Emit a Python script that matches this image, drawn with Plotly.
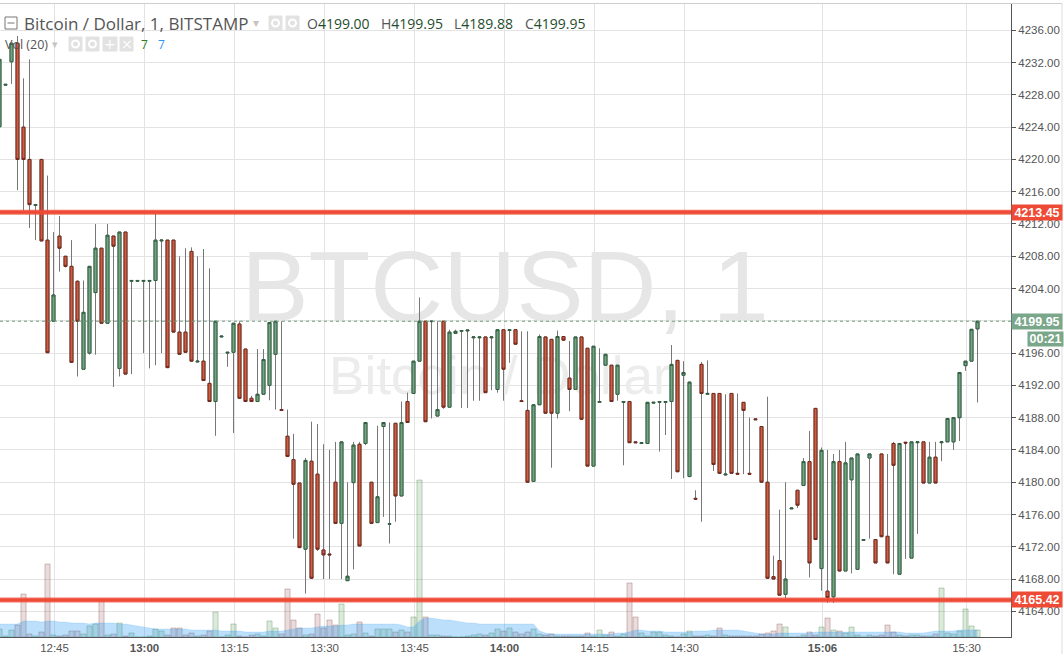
import plotly.graph_objects as go

opens = [4224.05, 4229.2, 4232.1, 4234.4, 4224, 4220, 4214.3, 4220, 4210, 4199.95,
         4210.5, 4208, 4206.75, 4204.9, 4194, 4196, 4203.5, 4209, 4199.7, 4210.5,
         4194.1, 4211, 4204.9, 4204.9, 4204.9, 4204.9, 4205, 4209.9, 4210, 4210,
         4198.6, 4198.6, 4208.6, 4194.9, 4195, 4192.25, 4190, 4198, 4196, 4196.1,
         4199.6, 4196.5, 4190.4, 4190, 4190.9, 4192, 4195.85, 4189, 4185.7, 4182.8,
         4179.9, 4171.7, 4182.6, 4181, 4171.6, 4171.1, 4180, 4174.9, 4167.8, 4179.95,
         4184.7, 4184.8, 4180, 4175, 4186.9, 4174.8, 4187.3, 4178.3, 4190, 4191,
         4195, 4199.95, 4199.9, 4188.2, 4199.95, 4189.3, 4198.45, 4198.7, 4198.75, 4197.9,
         4197.9, 4198, 4197.9, 4191.5, 4198.9, 4198.8, 4198.9, 4190.1, 4188.9, 4180.1,
         4189.6, 4198, 4197.7, 4188.55, 4198.05, 4192.9, 4191.5, 4198, 4196.6, 4182,
         4189.9, 4194.5, 4194.5, 4190.9, 4189.9, 4190, 4185, 4184.8, 4184.8, 4189.8,
         4189.9, 4189.9, 4190, 4195.1, 4193.25, 4180.7, 4178, 4194.6, 4190.9, 4191,
         4191, 4180.9, 4191, 4181.1, 4189.9, 4181.1, 4187.85, 4186.9, 4180, 4168.3,
         4170.3, 4166.1, 4176.7, 4179, 4179.6, 4182.55, 4189.15, 4169.3, 4166.5, 4165.8,
         4182.55, 4169, 4180.3, 4169.2, 4172.8, 4183, 4172.9, 4183.5, 4173.3, 4184.8,
         4168.6, 4184.95, 4170.6, 4184.9, 4185, 4179.9, 4183.1, 4184.9, 4185, 4185,
         4188, 4194.45, 4195, 4199]
highs = [4232.4, 4229.3, 4234.4, 4235.3, 4230.05, 4232.4, 4214.4, 4220, 4218, 4211,
         4213, 4208, 4210, 4205, 4205, 4206.75, 4212, 4209, 4212, 4210.5,
         4211, 4211, 4205, 4205, 4205, 4205, 4213.5, 4210, 4210, 4210,
         4208, 4209, 4209.1, 4208, 4208.9, 4206.5, 4199.95, 4198.1, 4196.1, 4199.7,
         4199.95, 4196.5, 4190.7, 4196.5, 4196.5, 4199.8, 4199.95, 4199.95, 4189, 4186,
         4179.9, 4183, 4187.5, 4187.2, 4184.7, 4184, 4185, 4185, 4180, 4185,
         4185, 4187.4, 4180, 4187, 4187.4, 4187.4, 4187.3, 4190, 4191.1, 4195,
         4202.9, 4199.95, 4199.95, 4199.95, 4199.95, 4198.9, 4198.9, 4198.8, 4198.85, 4198,
         4198, 4198, 4198, 4198.9, 4198.9, 4198.9, 4198.9, 4198.7, 4198.7, 4189.6,
         4198.3, 4198, 4197.7, 4198.8, 4198.05, 4197.5, 4198, 4198, 4196.6, 4196.85,
         4196.6, 4195.85, 4194.5, 4194.5, 4190, 4190, 4185, 4184.9, 4189.9, 4189.9,
         4190, 4190, 4197, 4195.1, 4195, 4192.5, 4179, 4194.9, 4195.1, 4191,
         4191, 4190.9, 4191, 4191, 4189.9, 4188, 4187.85, 4186.9, 4190.6, 4170.9,
         4176.6, 4180, 4176.8, 4179, 4183, 4186.35, 4189.15, 4184.3, 4184, 4183.5,
         4184, 4185, 4183, 4183.5, 4172.9, 4183.5, 4172.9, 4183.5, 4183.5, 4185,
         4184.8, 4184.95, 4185, 4185, 4185, 4185, 4185, 4185, 4187.9, 4188,
         4193.6, 4195, 4198.95, 4199.95]
lows = [4224.05, 4229.2, 4229.35, 4216.2, 4213.7, 4211.5, 4210, 4209.9, 4196.05, 4199.95,
        4206.1, 4206.6, 4194.85, 4193.1, 4194, 4195.8, 4195.8, 4199.7, 4199.7, 4191.8,
        4193.1, 4193.4, 4193.4, 4204.9, 4196, 4194.1, 4194.5, 4196, 4194.2, 4198.6,
        4195.85, 4196.1, 4195, 4194.9, 4192.6, 4190, 4185.75, 4198, 4194.3, 4186.1,
        4190.4, 4190, 4190, 4190, 4190.9, 4190.15, 4189, 4188.9, 4183.2, 4173,
        4171.9, 4166.2, 4168.1, 4171.5, 4168, 4168, 4174.9, 4168, 4167.8, 4169.2,
        4172.1, 4184.6, 4174.9, 4175, 4175.7, 4172.4, 4175.1, 4178.3, 4187.4, 4191,
        4195, 4187.5, 4187.9, 4188.2, 4189.1, 4189.3, 4198.45, 4189.2, 4189.2, 4190.1,
        4190.1, 4191.1, 4191.4, 4191.1, 4190.1, 4194.8, 4197.1, 4190, 4180, 4180.1,
        4189.6, 4188.55, 4181.8, 4187.9, 4197.6, 4188.8, 4191.5, 4187.8, 4182, 4182,
        4189.9, 4194.5, 4190, 4190.1, 4182.1, 4184.9, 4184.9, 4184.8, 4184.8, 4189.8,
        4183.8, 4185.85, 4180.4, 4181.3, 4180.5, 4180.7, 4177.9, 4175.1, 4190.9, 4181.4,
        4181.1, 4180.9, 4181.1, 4181, 4181, 4181, 4187.75, 4180, 4168.1, 4168,
        4166, 4165.6, 4176.7, 4176.8, 4179.6, 4168.2, 4172.9, 4166.55, 4165.05, 4165.05,
        4169, 4169, 4168.7, 4169.2, 4172.8, 4173, 4170, 4173.25, 4170, 4168.6,
        4168.6, 4170.5, 4170.6, 4173.6, 4179.9, 4179.9, 4179.9, 4182.6, 4185, 4184,
        4185.1, 4193.8, 4195, 4189.88]
closes = [4232.4, 4229.3, 4234.4, 4220, 4220, 4214.4, 4214.4, 4209.9, 4196.05, 4203.2,
          4209, 4206.75, 4194.85, 4199.95, 4201.05, 4206.75, 4209, 4199.7, 4210.6, 4209.25,
          4211, 4193.4, 4205, 4205, 4205, 4205, 4210, 4210, 4194.2, 4198.6,
          4195.85, 4196.1, 4195, 4195, 4192.6, 4190, 4199.95, 4198.1, 4196.1, 4199.7,
          4190.4, 4190, 4190, 4190.9, 4195.2, 4199.8, 4199.95, 4188.9, 4183.2, 4179.75,
          4171.9, 4182.7, 4168.1, 4171.7, 4171, 4171, 4174.9, 4185, 4168.35, 4184.6,
          4172.1, 4187.4, 4174.9, 4178.2, 4187.4, 4174.85, 4178.3, 4187.4, 4187.4, 4195,
          4199.95, 4187.5, 4199.95, 4189, 4189.3, 4198.6, 4198.7, 4198.8, 4198.85, 4198,
          4198, 4191.1, 4198, 4198.9, 4194, 4198.9, 4197.1, 4190, 4180, 4189.6,
          4198.05, 4188.55, 4188.55, 4198.05, 4197.6, 4191.5, 4198, 4187.8, 4182, 4196.85,
          4190, 4195.85, 4190, 4194.5, 4190, 4184.9, 4184.9, 4184.9, 4189.9, 4189.9,
          4190, 4190, 4194.6, 4181.3, 4193.6, 4192.4, 4177.9, 4191, 4191, 4182.2,
          4181.1, 4181, 4181.1, 4181, 4188.9, 4181, 4187.75, 4180, 4168.1, 4168,
          4166, 4168, 4176.8, 4177.15, 4182.55, 4170, 4172.9, 4183.95, 4165.7, 4182.55,
          4169, 4182.4, 4183, 4183.5, 4172.9, 4183.5, 4170, 4173.25, 4170, 4182.1,
          4184.8, 4184.85, 4185, 4185, 4179.9, 4183.1, 4179.9, 4185, 4187.9, 4188,
          4193.6, 4195, 4198.95, 4199.95]
volumes = [8, 1, 7, 12, 43, 3, 1, 5, 73, 2,
           1, 2, 6, 6, 3, 11, 13, 38, 2, 3,
           14, 1, 4, 0, 0, 1, 8, 6, 2, 9,
           9, 2, 4, 1, 2, 6, 25, 0, 2, 13,
           1, 0, 2, 3, 1, 16, 9, 3, 48, 17,
           9, 2, 3, 23, 9, 17, 12, 33, 2, 3,
           15, 4, 1, 8, 8, 8, 5, 7, 5, 20,
           157, 20, 2, 2, 1, 1, 0, 0, 1, 2,
           3, 2, 4, 8, 6, 9, 5, 3, 5, 8,
           3, 2, 3, 1, 1, 1, 1, 1, 4, 1,
           7, 2, 5, 1, 3, 54, 20, 4, 1, 5,
           5, 2, 1, 0, 3, 6, 1, 1, 2, 1,
           9, 2, 1, 1, 1, 1, 1, 3, 4, 6,
           13, 10, 0, 0, 2, 5, 2, 10, 19, 7,
           6, 4, 10, 2, 0, 2, 1, 2, 12, 5,
           2, 1, 2, 2, 1, 1, 3, 49, 4, 3,
           6, 28, 11, 7]
vol_ma = [13, 13, 13, 13, 16, 16, 16, 15, 16, 16,
          15, 15, 14, 14, 14, 13, 14, 14, 14, 14,
          13, 13, 12, 11, 10, 9, 8, 8, 8, 8,
          8, 8, 7, 7, 7, 7, 7, 6, 6, 6,
          6, 5, 5, 5, 5, 6, 6, 6, 7, 8,
          9, 9, 9, 10, 11, 11, 11, 12, 12, 13,
          13, 13, 13, 13, 13, 13, 13, 12, 10, 10,
          16, 19, 19, 18, 17, 17, 16, 15, 14, 14,
          13, 13, 13, 13, 13, 13, 13, 13, 13, 13,
          6, 4, 3, 3, 3, 3, 3, 3, 3, 3,
          3, 3, 3, 4, 4, 5, 7, 7, 6, 6,
          6, 5, 5, 5, 5, 5, 6, 6, 6, 7,
          7, 7, 7, 7, 6, 5, 4, 3, 3, 3,
          4, 4, 4, 4, 4, 4, 5, 5, 5, 5,
          5, 5, 5, 5, 5, 5, 5, 5, 5, 5,
          5, 4, 4, 4, 4, 5, 6, 6, 6, 6,
          7, 7, 7, 7]

tick_bars = [9, 24, 39, 54, 69, 84, 99, 114, 137, 161]
tick_labels = ['12:45', '<b>13:00</b>', '13:15', '13:30', '13:45', '<b>14:00</b>',
               '14:15', '14:30', '<b>15:06</b>', '15:30']

resistance = 4213.45
support = 4165.42
last_price = 4199.95

RED_LINE = '#ef4a35'
GREEN_TAG = '#7aa68a'
TEXT = '#555555'
GRID = '#e3e3e3'
ICON = '#e2e2e2'

PLOT_W = 1011
PLOT_H = 633
BOTTOM = 637

bars = list(range(len(opens)))
body_tops = [max(o, c) for o, c in zip(opens, closes)]
body_bottoms = [min(o, c) for o, c in zip(opens, closes)]
vol_fill = ['rgba(60,140,60,0.18)' if c > o else 'rgba(140,60,60,0.18)' for o, c in zip(opens, closes)]
vol_edge = ['rgba(60,120,60,0.3)' if c > o else 'rgba(120,60,60,0.3)' for o, c in zip(opens, closes)]


def px(x):
    return x / PLOT_W


def py(y):
    return (BOTTOM - y) / PLOT_H


def label(x, y, text, size=12, color=TEXT, family='Open Sans', anchor='left'):
    return dict(xref='paper', yref='paper', x=px(x), y=py(y), text=text, showarrow=False,
                xanchor=anchor, yanchor='middle', font=dict(family=family, size=size, color=color))


def box(x0, y0, x1, y1, fill=ICON, line=None):
    return dict(type='rect', xref='paper', yref='paper', x0=px(x0), x1=px(x1), y0=py(y0), y1=py(y1),
                fillcolor=fill, line=dict(color=line or fill, width=1), layer='above')


def seg(x0, y0, x1, y1, color, width=1):
    return dict(type='line', xref='paper', yref='paper', x0=px(x0), x1=px(x1), y0=py(y0), y1=py(y1),
                line=dict(color=color, width=width), layer='above')


def tag(price, text, fill):
    return dict(xref='paper', yref='y2', x=1, y=price, text=text, showarrow=False, xanchor='left',
                yanchor='middle', width=50, height=15, bgcolor=fill, borderpad=0,
                font=dict(family='Liberation Sans', size=12.5, color='white', weight='bold'))


fig = go.Figure()

# Watermark sits in the lower subplot so the candles are drawn over it
fig.add_trace(go.Scatter(x=[84.25], y=[341], mode='text', text=['BTCUSD, 1'], textposition='middle center',
                         textfont=dict(family='Liberation Sans', size=101, color='#e6e6e6'),
                         hoverinfo='skip', yaxis='y'))
fig.add_trace(go.Scatter(x=[83.4], y=[256], mode='text', text=['Bitcoin / Dollar'], textposition='middle center',
                         textfont=dict(family='Liberation Sans', size=53, color='#ececec'),
                         hoverinfo='skip', yaxis='y'))

fig.add_trace(go.Bar(x=bars, y=volumes, width=0.85, marker=dict(color=vol_fill, line=dict(color=vol_edge, width=1)),
                     yaxis='y', name='Vol'))
fig.add_trace(go.Scatter(x=bars, y=vol_ma, mode='lines', fill='tozeroy', fillcolor='rgba(33,150,243,0.3)',
                         line=dict(color='rgba(33,150,243,0.15)', width=1), yaxis='y', name='MA'))

# Wicks in grey, then bodies on top with their own dark outline
fig.add_trace(go.Candlestick(x=bars, open=opens, high=highs, low=lows, close=closes, yaxis='y2',
                             increasing=dict(line=dict(color='#777777', width=1), fillcolor='rgba(0,0,0,0)'),
                             decreasing=dict(line=dict(color='#777777', width=1), fillcolor='rgba(0,0,0,0)'),
                             whiskerwidth=0, name='wicks'))
fig.add_trace(go.Candlestick(x=bars, open=opens, high=body_tops, low=body_bottoms, close=closes, yaxis='y2',
                             increasing=dict(line=dict(color='#2f6040', width=1), fillcolor='#72a683'),
                             decreasing=dict(line=dict(color='#73281a', width=1), fillcolor='#d05c42'),
                             whiskerwidth=0, name='bodies'))

shapes = [
    dict(type='line', xref='paper', yref='y2', x0=0, x1=1, y0=last_price, y1=last_price,
         line=dict(color='#6f9a7f', width=1, dash='dot'), layer='above'),
    dict(type='line', xref='paper', yref='y2', x0=0, x1=1, y0=resistance, y1=resistance,
         line=dict(color='rgba(239,74,53,0.75)', width=5), layer='above'),
    dict(type='line', xref='paper', yref='y2', x0=0, x1=1, y0=resistance, y1=resistance,
         line=dict(color=RED_LINE, width=3), layer='above'),
    dict(type='line', xref='paper', yref='y2', x0=0, x1=1, y0=support, y1=support,
         line=dict(color='rgba(239,74,53,0.75)', width=5), layer='above'),
    dict(type='line', xref='paper', yref='y2', x0=0, x1=1, y0=support, y1=support,
         line=dict(color=RED_LINE, width=3), layer='above'),
    seg(0, 3.5, 1062, 3.5, '#cfcfcf'),
    seg(1062, 3.5, 1062, 654, '#dddddd'),
    # collapse button and header icons
    box(5, 17, 17, 29, fill='white', line='#777777'),
    seg(7.5, 23, 14.5, 23, '#777777'),
    box(269, 16, 282, 30),
    box(286, 16, 299, 30),
    box(69, 37, 82, 51),
    box(86, 37, 99, 51),
    box(103, 37, 117, 51),
    box(120, 37, 133, 51),
]
for cx, cy in [(275.5, 23), (292.5, 23), (75.5, 44), (92.5, 44)]:
    shapes.append(dict(type='circle', xref='paper', yref='paper', x0=px(cx - 3.5), x1=px(cx + 3.5),
                       y0=py(cy + 3.5), y1=py(cy - 3.5), fillcolor='rgba(0,0,0,0)',
                       line=dict(color='white', width=2), layer='above'))

annotations = [
    label(22, 23, 'Bitcoin / Dollar, 1, BITSTAMP', size=17),
    label(251, 23, '▾', size=12, color='#c4c4c4', family='DejaVu Sans'),
    label(3, 44, 'Vol (20)', size=12.5),
    label(50, 44, '▾', size=11, color='#c4c4c4', family='DejaVu Sans'),
    label(110, 44, '+', size=14, color='white', anchor='center', family='DejaVu Sans'),
    label(126.5, 44, '×', size=14, color='white', anchor='center', family='DejaVu Sans'),
    label(144, 44, '7', size=12, color='#2f7d1e', anchor='center'),
    label(161, 44, '7', size=12, color='#2f96f3', anchor='center'),
    label(305, 23, 'O<span style="color:#1f4d2e">4199.00</span>', size=14),
    label(379, 23, 'H<span style="color:#1f4d2e">4199.95</span>', size=14),
    label(452, 23, 'L<span style="color:#1f4d2e">4189.88</span>', size=14),
    label(523, 23, 'C<span style="color:#1f4d2e">4199.95</span>', size=14),
    tag(resistance, '4213.45', RED_LINE),
    tag(support, '4165.42', RED_LINE),
    tag(last_price, '4199.95', GREEN_TAG),
    dict(xref='paper', yref='paper', x=px(1027), y=py(339), text='00:21', showarrow=False, xanchor='left',
         yanchor='middle', width=35, height=14, bgcolor=GREEN_TAG, borderpad=0,
         font=dict(family='Liberation Sans', size=12.5, color='white', weight='bold')),
]

fig.update_layout(
    width=1064,
    height=654,
    margin=dict(l=0, r=53, t=4, b=17, pad=0),
    paper_bgcolor='white',
    plot_bgcolor='white',
    showlegend=False,
    barmode='overlay',
    boxgap=0.3,
    font=dict(family='Liberation Sans', size=11, color=TEXT),
    xaxis=dict(range=[0.083, 168.58], tickvals=[b + 0.17 for b in tick_bars], ticktext=tick_labels,
               showgrid=True, gridcolor=GRID, gridwidth=1, ticks='', showline=True, linecolor=TEXT,
               linewidth=1, rangeslider=dict(visible=False), zeroline=False,
               tickfont=dict(family='Liberation Sans', size=11.5, color=TEXT)),
    yaxis=dict(range=[0, PLOT_H], visible=False, showgrid=False, zeroline=False),
    yaxis2=dict(range=[4160.82, 4239.26], overlaying='y', side='right', tick0=4160, dtick=4, tickformat='.2f',
                showgrid=True, gridcolor=GRID, gridwidth=1, ticks='outside', ticklen=4, tickcolor=TEXT,
                showline=True, linecolor=TEXT, linewidth=1, zeroline=False,
                tickfont=dict(family='Liberation Sans', size=11.5, color=TEXT)),
    shapes=shapes,
    annotations=annotations,
)

# the page's default body margin would push the chart 8px in
fig.write_html("out.html", config={'displayModeBar': False}, post_script="document.body.style.margin='0';")
